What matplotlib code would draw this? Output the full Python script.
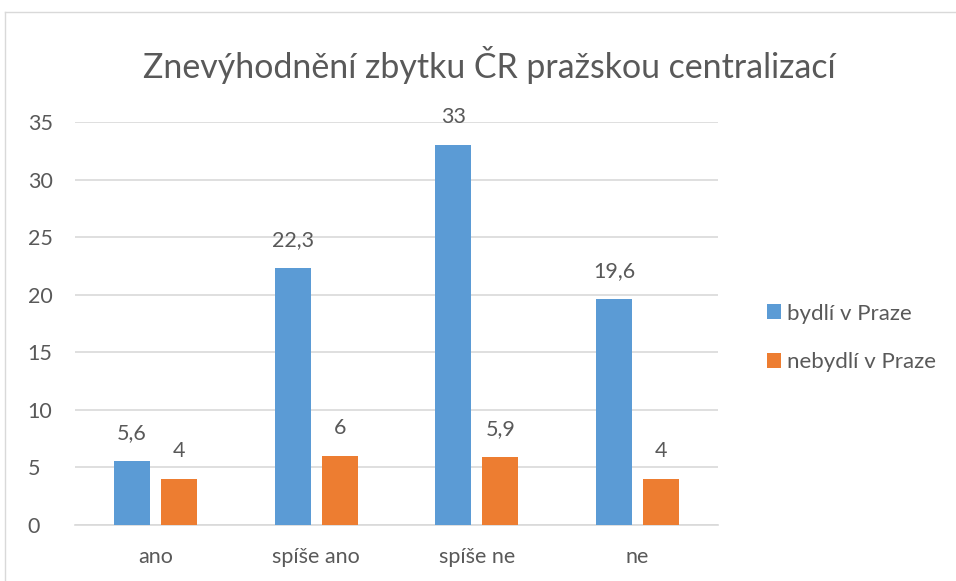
import matplotlib.pyplot as plt
from matplotlib.lines import Line2D
from matplotlib.patches import Patch
import numpy as np

categories = ['ano', 'spíše ano', 'spíše ne', 'ne']
bydli = [5.6, 22.3, 33, 19.6]
nebydli = [4, 6, 5.9, 4]
series_names = ['bydlí v Praze', 'nebydlí v Praze']
colors = ['#5b9bd5', '#ed7d31']
txt = '#595959'

plt.rcParams['font.family'] = ['Lato', 'DejaVu Sans']

fig = plt.figure(figsize=(9.56, 5.81), dpi=100)
W, H = 956, 581
ax = fig.add_axes([75 / W, 1 - 525 / H, (718 - 75) / W, (525 - 122) / H])

x = np.arange(len(categories))
bw = 0.224
off = 0.146
b1 = ax.bar(x - off, bydli, bw, color=colors[0], zorder=3)
b2 = ax.bar(x + off, nebydli, bw, color=colors[1], zorder=3)

def fmt(v):
    return ('%g' % v).replace('.', ',')

for bars, vals in ((b1, bydli), (b2, nebydli)):
    for r, v in zip(bars, vals):
        ax.annotate(fmt(v), (r.get_x() + r.get_width() / 2, v), xytext=(0, 20),
                    textcoords='offset points', ha='center', va='center',
                    fontsize=15.5, color=txt)

ax.set_xlim(-0.5, 3.5)
ax.set_ylim(0, 35)
ax.set_yticks(range(0, 36, 5))
ax.set_xticks(x)
ax.set_xticklabels(categories)
ax.tick_params(length=0, labelsize=15.5, colors=txt)
ax.tick_params(axis='y', pad=34)
ax.tick_params(axis='x', pad=16)
for lab in ax.get_yticklabels():
    lab.set_horizontalalignment('left')
ax.grid(axis='y', color='#d9d9d9', linewidth=1.2, zorder=0)
for s in ['top', 'right', 'left']:
    ax.spines[s].set_visible(False)
ax.spines['bottom'].set_color('#d9d9d9')
ax.spines['bottom'].set_linewidth(1.2)

fig.text(489 / W, 1 - 65 / H, 'Znevýhodnění zbytku ČR pražskou centralizací',
         ha='center', va='center', fontsize=24.4, color=txt)

handles = [Patch(facecolor=c) for c in colors]
fig.legend(handles, series_names, loc='center left', bbox_to_anchor=(767 / W, 1 - 338 / H),
           frameon=False, fontsize=16, handlelength=0.63, handleheight=0.63,
           handletextpad=0.27, labelspacing=1.3, borderpad=0, borderaxespad=0,
           labelcolor=txt)

# outer chart border
fig.add_artist(Line2D([5 / W, 5 / W], [0, 1 - 12 / H], transform=fig.transFigure,
                      color='#d9d9d9', linewidth=1))
fig.add_artist(Line2D([5 / W, 1], [1 - 12 / H, 1 - 12 / H], transform=fig.transFigure,
                      color='#d9d9d9', linewidth=1))

fig.savefig('out.png', dpi=100)
